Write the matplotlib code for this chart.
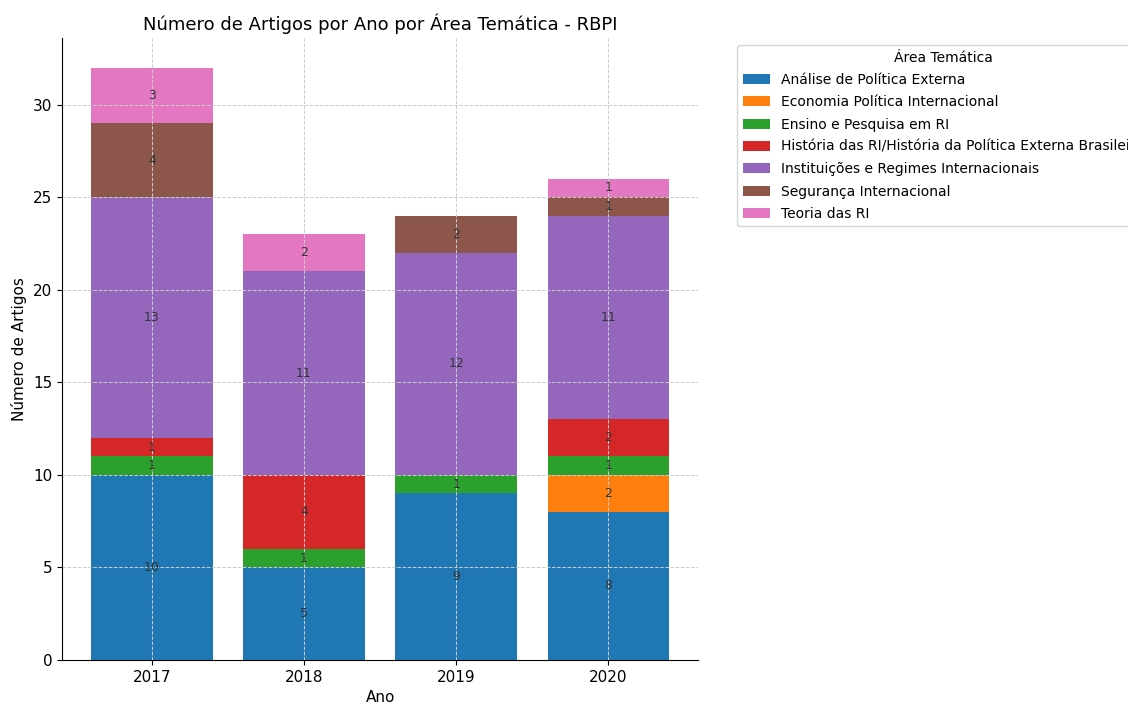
import matplotlib.pyplot as plt
import numpy as np

# Data
years = ['2017', '2018', '2019', '2020']
areas = [
    'Análise de Política Externa',
    'Economia Política Internacional',
    'Ensino e Pesquisa em RI',
    'História das RI/História da Política Externa Brasileira',
    'Instituições e Regimes Internacionais',
    'Segurança Internacional',
    'Teoria das RI',
]
analise = [10, 5, 9, 8]
economia = [0, 0, 0, 2]
ensino = [1, 1, 1, 1]
historia = [1, 4, 0, 2]
instituicoes = [13, 11, 12, 11]
seguranca = [4, 0, 2, 1]
teoria = [3, 2, 0, 1]

series = [analise, economia, ensino, historia, instituicoes, seguranca, teoria]
colors = ['#1f77b4', '#ff7f0e', '#2ca02c', '#d62728', '#9467bd', '#8c564b', '#e377c2']

fig = plt.figure(figsize=(11.28, 7.04), dpi=100)
ax = fig.add_axes([0.055, 0.0625, 0.564, 0.8835])

x = np.arange(len(years))
bottom = np.zeros(len(years))
for name, vals, col in zip(areas, series, colors):
    vals = np.array(vals, dtype=float)
    ax.bar(x, vals, 0.8, bottom=bottom, color=col, label=name)
    # value label in the middle of each segment
    for xi, v, b in zip(x, vals, bottom):
        if v > 0:
            ax.text(xi, b + v / 2, f'{int(v)}', ha='center', va='center',
                    fontsize=9, color='#333333')
    bottom += vals

ax.set_xticks(x)
ax.set_xticklabels(years)
ax.tick_params(labelsize=11)
ax.set_xlabel('Ano', fontsize=11)
ax.set_ylabel('Número de Artigos', fontsize=11)
ax.set_title('Número de Artigos por Ano por Área Temática - RBPI', fontsize=13)
ax.grid(True, linestyle='--', color='#cccccc', linewidth=0.7)
ax.set_axisbelow(False)
ax.spines['top'].set_visible(False)
ax.spines['right'].set_visible(False)

ax.legend(title='Área Temática', loc='upper left', bbox_to_anchor=(1.05, 1),
          fontsize=10, title_fontsize=10, labelspacing=0.6)

fig.savefig('out.png', dpi=100)
